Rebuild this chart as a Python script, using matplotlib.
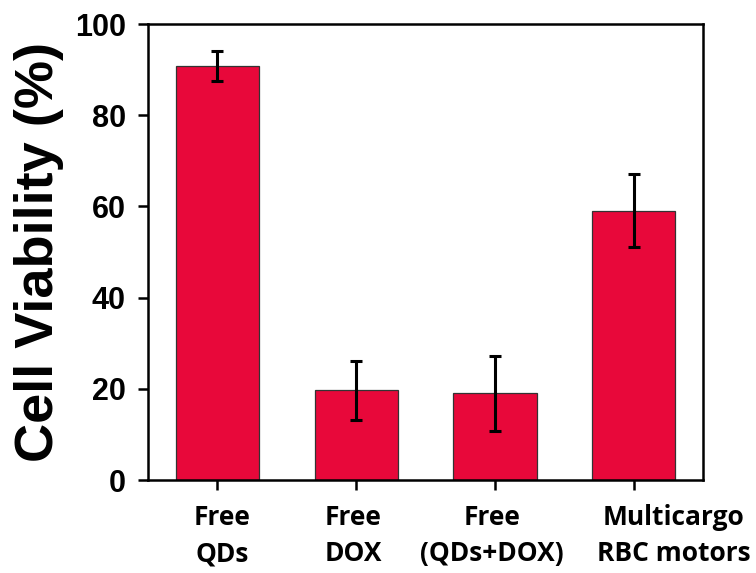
import matplotlib
matplotlib.use("Agg")
import matplotlib.pyplot as plt
import matplotlib.transforms as mtransforms

# data
categories = ["Free\nQDs", "Free\nDOX", "Free\n(QDs+DOX)", "Multicargo\nRBC motors"]
viability = [90.8, 19.7, 19.0, 59.1]
errors = [3.3, 6.5, 8.3, 8.1]
y_ticks = [0, 20, 40, 60, 80, 100]

fig = plt.figure(figsize=(7.56, 5.73), dpi=100)
ax = fig.add_axes([0.1958, 0.1623, 0.7341, 0.7958])

xpos = list(range(1, len(categories) + 1))
ax.bar(xpos, viability, width=0.6, color="#E8083A", edgecolor="#333333", linewidth=0.9, zorder=2)
ax.errorbar(xpos, viability, yerr=errors, fmt="none", ecolor="black",
            elinewidth=2.2, capsize=4.0, capthick=2.2, zorder=3)

ax.set_xlim(0.5, 4.5)
ax.set_ylim(0, 100)
ax.set_yticks(y_ticks)
ax.set_yticklabels([str(t) for t in y_ticks], fontsize=22, fontweight="bold",
                   family=["Liberation Sans", "DejaVu Sans"])
ax.set_xticks(xpos)
ax.set_xticklabels([])
ax.set_ylabel("Cell Viability (%)", fontsize=39, fontweight="bold",
              family=["Liberation Sans", "DejaVu Sans"], labelpad=8)

# category labels drawn as text; the last one sits right of its tick in the original
shifts = [5, -3, -3, 40]
for x, lab, dx in zip(xpos, categories, shifts):
    tr = ax.get_xaxis_transform() + mtransforms.ScaledTranslation(dx / 100, -24 / 100, fig.dpi_scale_trans)
    ax.text(x, 0, lab, transform=tr, ha="center", va="top", fontsize=19, fontweight="bold",
            family=["Open Sans", "DejaVu Sans"], linespacing=1.45, clip_on=False)

for sp in ax.spines.values():
    sp.set_linewidth(1.8)
ax.tick_params(axis="y", direction="out", length=7, width=1.8, pad=9)
ax.tick_params(axis="x", direction="out", length=7, width=1.8)

fig.savefig("out.png", dpi=100)
